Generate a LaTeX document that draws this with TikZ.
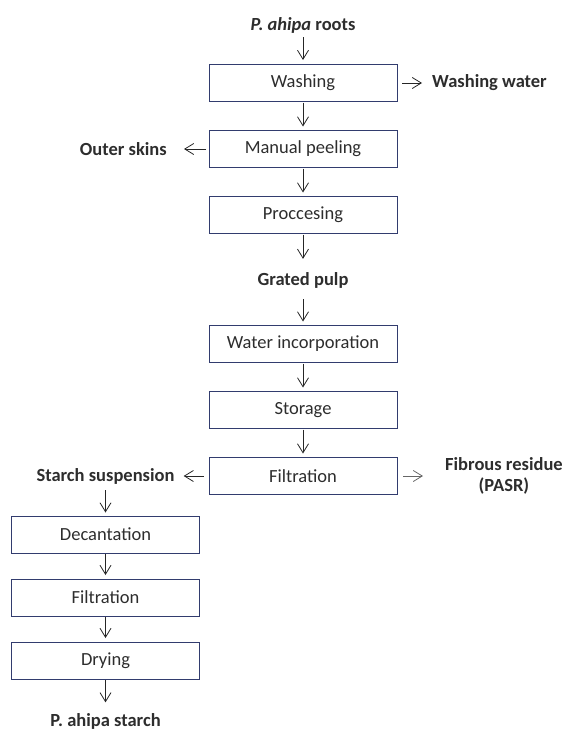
\documentclass[tikz,border=0pt]{standalone}
\usepackage{fontspec}
\setmainfont{Carlito}
\usetikzlibrary{arrows.meta,positioning}

\definecolor{boxline}{RGB}{50,60,110}
\definecolor{inktext}{RGB}{45,45,45}

\begin{document}
\begin{tikzpicture}
      [
        x=1pt, y=1pt,
        on grid,
        font=\fontsize{18.5}{21}\selectfont,
        text=inktext,
        StepBox/.style={draw=boxline, line width=1pt, minimum width=188pt, minimum height=37pt, inner sep=0pt, outer sep=0pt},
        OutText/.style={font=\fontsize{18.5}{21}\selectfont\bfseries, inner sep=2pt, align=center},
        FlowArrow/.style={-{Straight Barb[length=9pt,width=11pt]}, line width=0.8pt, draw=black!85},
      ]
      \useasboundingbox (0,0) rectangle (565,-731);

      % main line
      \node [OutText] (roots) at (303,-25) {\textit{P. ahipa} roots};
      \node [StepBox, below=58pt of roots] (wash) {Washing};
      \node [StepBox, below=66pt of wash] (peel) {Manual peeling};
      \node [StepBox, below=66pt of peel] (proc) {Proccesing};
      \node [OutText, below=65pt of proc] (pulp) {Grated pulp};
      \node [StepBox, below=64pt of pulp] (water) {Water incorporation};
      \node [StepBox, below=66pt of water] (store) {Storage};
      \node [StepBox, below=66pt of store] (filt) {Filtration};

      % side outputs
      \node [OutText, right=33pt of wash.east, anchor=west] (washwater) {Washing water};
      \node [OutText, left=40pt of peel.west, anchor=east] (skins) {Outer skins};
      \node [OutText, right=46pt of filt.east, anchor=west] (fibre) {Fibrous residue\\(PASR)};

      % starch line
      \node [OutText, left=197.5pt of filt] (susp) {Starch suspension};
      \node [StepBox, below=58.5pt of susp] (decant) {Decantation};
      \node [StepBox, below=63pt of decant] (filttwo) {Filtration};
      \node [StepBox, below=63pt of filttwo] (dry) {Drying};
      \node [OutText, below=61pt of dry] (starch) {P. ahipa starch};

      \draw[FlowArrow, shorten <=2pt, shorten >=4.5pt] (roots) -- (wash);
      \draw[FlowArrow, shorten <=1pt, shorten >=4pt] (wash) -- (peel);
      \draw[FlowArrow, shorten <=1pt, shorten >=4pt] (peel) -- (proc);
      \draw[FlowArrow, shorten <=1pt, shorten >=11pt] (proc) -- (pulp);
      \draw[FlowArrow, shorten <=9pt, shorten >=4pt] (pulp) -- (water);
      \draw[FlowArrow, shorten <=1pt, shorten >=4pt] (water) -- (store);
      \draw[FlowArrow, shorten <=1pt, shorten >=4pt] (store) -- (filt);

      \draw[FlowArrow, shorten <=5pt, shorten >=8pt] (wash) -- (washwater);
      \draw[FlowArrow, shorten <=3pt, shorten >=15pt] (peel) -- (skins);
      \draw[FlowArrow, shorten <=5pt, shorten >=7pt] (filt) -- (susp);
      \draw[FlowArrow, draw=black!60, shorten <=6pt, shorten >=20pt] (filt) -- (fibre);

      \draw[FlowArrow, shorten <=4pt, shorten >=3.5pt] (susp) -- (decant);
      \draw[FlowArrow, shorten <=1pt, shorten >=4pt] (decant) -- (filttwo);
      \draw[FlowArrow, shorten <=1pt, shorten >=4pt] (filttwo) -- (dry);
      \draw[FlowArrow, shorten <=1pt, shorten >=9pt] (dry) -- (starch);
    \end{tikzpicture}
\end{document}
